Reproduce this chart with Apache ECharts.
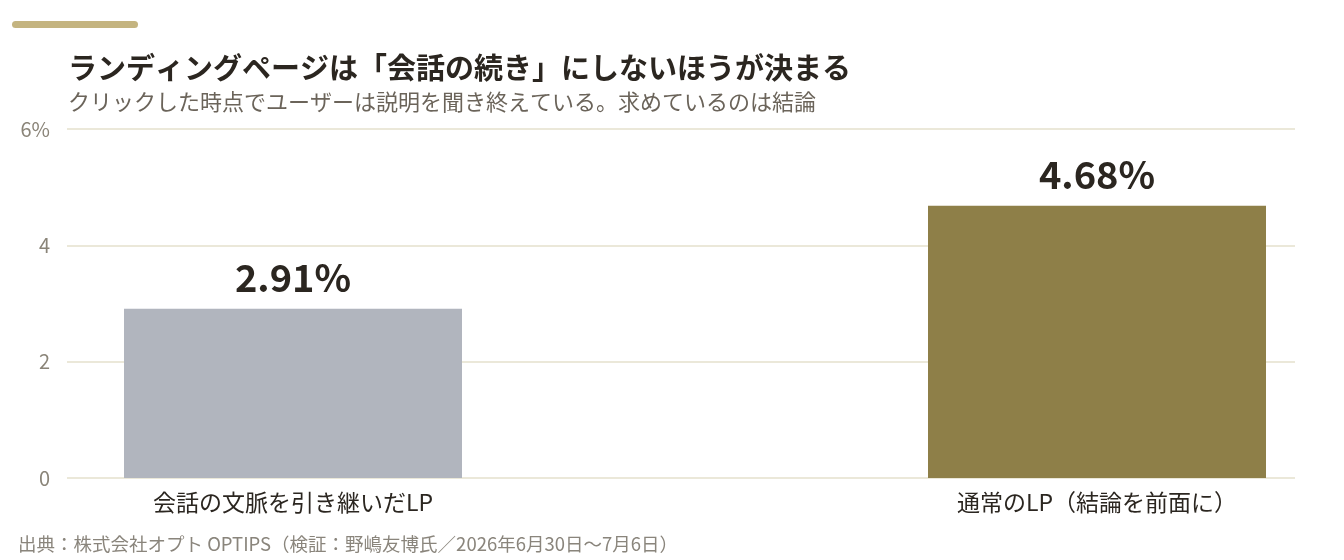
<!DOCTYPE html>
<html>
<head>
<meta charset="utf-8">
<script src="https://cdn.jsdelivr.net/npm/echarts@6/dist/echarts.min.js"></script>
<style>
  html, body { margin: 0; padding: 0; background: #fff; }
  #chart { width: 1344px; height: 560px; }
</style>
</head>
<body>
<div id="chart"></div>
<script>
var categories = ['会話の文脈を引き継いだLP', '通常のLP（結論を前面に）'];
var rates = [2.91, 4.68];
var barColors = ['#b1b5be', '#8e7f48'];
var yTicks = [0, 2, 4, 6];

var font = '"Noto Sans CJK JP", "Noto Sans", sans-serif';

var myChart = echarts.init(document.getElementById('chart'));

var option = {
    backgroundColor: '#ffffff',
    animation: false,
    textStyle: { fontFamily: font },
    graphic: [
        {
            type: 'rect',
            left: 12, top: 21,
            shape: { width: 126, height: 7, r: 3.5 },
            style: { fill: '#c4b480' }
        },
        {
            type: 'text',
            left: 68, top: 53,
            style: {
                text: 'ランディングページは「会話の続き」にしないほうが決まる',
                font: 'bold 29px ' + font,
                fill: '#2b2620'
            }
        },
        {
            type: 'text',
            left: 68, top: 91,
            style: {
                text: 'クリックした時点でユーザーは説明を聞き終えている。求めているのは結論',
                font: '22px ' + font,
                fill: '#6b645a'
            }
        },
        {
            type: 'text',
            left: 18, top: 535,
            style: {
                text: '出典：株式会社オプト OPTIPS（検証：野嶋友博氏／2026年6月30日〜7月6日）',
                font: '18.5px ' + font,
                fill: '#8a857c'
            }
        }
    ],
    grid: [
        { left: 67, right: 49, top: 129, bottom: 82 },
        { left: 293, right: 247, top: 129, bottom: 82 }
    ],
    xAxis: [
        { gridIndex: 0, type: 'value', show: false, min: 0, max: 1 },
        {
            gridIndex: 1,
            type: 'category',
            data: categories,
            boundaryGap: false,
            axisLine: { show: false },
            axisTick: { show: false },
            axisLabel: {
                color: '#2b2620',
                fontSize: 23,
                margin: 13,
                fontFamily: font
            }
        }
    ],
    yAxis: [
        {
            gridIndex: 0,
            type: 'value',
            min: 0, max: 6, interval: 2,
            axisLine: { show: false },
            axisTick: { show: false },
            splitLine: { lineStyle: { color: '#e4e0cc', width: 1.5 } },
            axisLabel: {
                color: '#8a8478',
                fontSize: 20,
                margin: 17,
                fontFamily: font,
                formatter: function (v) {
                    return v === yTicks[yTicks.length - 1] ? v + '%' : String(v);
                }
            }
        },
        {
            gridIndex: 1,
            type: 'value',
            min: 0, max: 6, interval: 2,
            show: false
        }
    ],
    series: [
        {
            type: 'bar',
            xAxisIndex: 1,
            yAxisIndex: 1,
            barWidth: 338,
            data: rates.map(function (v, i) {
                return { value: v, itemStyle: { color: barColors[i] } };
            }),
            label: {
                show: true,
                position: 'top',
                distance: 12,
                color: '#2b2620',
                fontSize: 38,
                fontWeight: 'bold',
                fontFamily: font,
                formatter: function (p) { return p.value.toFixed(2) + '%'; }
            }
        }
    ]
};

myChart.setOption(option);
</script>
</body>
</html>
